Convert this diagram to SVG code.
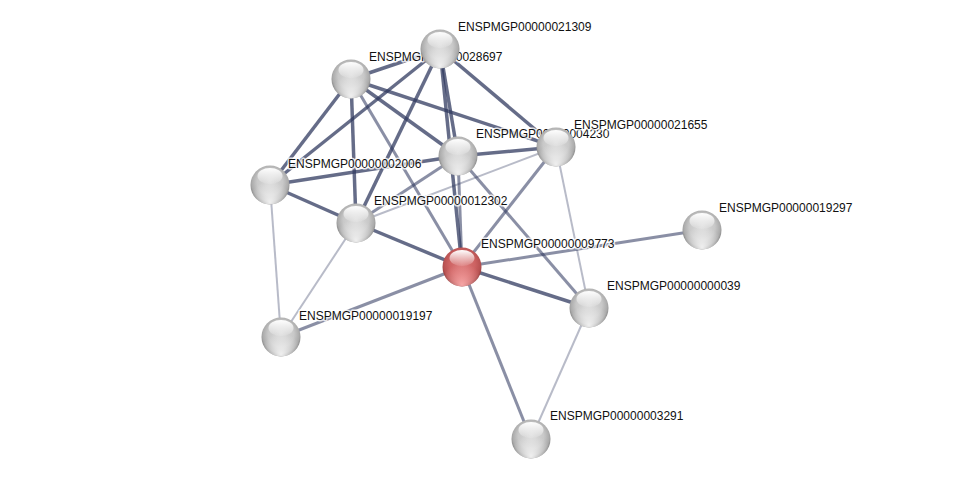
<svg xmlns="http://www.w3.org/2000/svg" width="975" height="484" viewBox="0 0 975 484">
<defs>
<radialGradient id="gBody" cx="50%" cy="45%" r="55%" fx="50%" fy="40%">
<stop offset="0" stop-color="#dcdcdc"/>
<stop offset="0.6" stop-color="#c8c8c8"/>
<stop offset="0.85" stop-color="#ababab"/>
<stop offset="1" stop-color="#7a7a7a"/>
</radialGradient>
<radialGradient id="rBody" cx="50%" cy="45%" r="55%" fx="50%" fy="40%">
<stop offset="0" stop-color="#dc7a7a"/>
<stop offset="0.6" stop-color="#cd6262"/>
<stop offset="0.85" stop-color="#b85252"/>
<stop offset="1" stop-color="#853737"/>
</radialGradient>
<radialGradient id="gBot" cx="50%" cy="95%" r="55%">
<stop offset="0" stop-color="#ffffff" stop-opacity="0.85"/>
<stop offset="1" stop-color="#ffffff" stop-opacity="0"/>
</radialGradient>
<radialGradient id="rBot" cx="50%" cy="95%" r="55%">
<stop offset="0" stop-color="#ffb0b0" stop-opacity="0.9"/>
<stop offset="1" stop-color="#ffb0b0" stop-opacity="0"/>
</radialGradient>
<linearGradient id="hl" x1="0" y1="0" x2="0" y2="1">
<stop offset="0" stop-color="#ffffff" stop-opacity="1"/>
<stop offset="1" stop-color="#ffffff" stop-opacity="0.1"/>
</linearGradient>
</defs>
<style>
.e{stroke:#2f385f;fill:none;stroke-linecap:butt}
.s1{stroke-width:3.5;stroke-opacity:0.74}
.s2{stroke-width:3;stroke-opacity:0.56}
.s3{stroke-width:2;stroke-opacity:0.34}
.gb{fill:url(#gBody)}
.rb{fill:url(#rBody)}
.gbot{fill:url(#gBot)}
.rbot{fill:url(#rBot)}
.hl{fill:url(#hl)}
.lbl{font-family:"Liberation Sans",Arial,sans-serif;font-size:12px;fill:#111;stroke:#ffffff;stroke-width:3;stroke-opacity:0.8;paint-order:stroke;stroke-linejoin:round}
</style>
<rect width="975" height="484" fill="#ffffff"/>
<g id="edges">
<line class="e s1" x1="440" y1="49" x2="351" y2="79"/>
<line class="e s1" x1="440" y1="49" x2="458" y2="156"/>
<line class="e s1" x1="351" y1="79" x2="458" y2="156"/>
<line class="e s1" x1="356" y1="223" x2="462" y2="267"/>
<line class="e s1" x1="462" y1="267" x2="589" y2="308"/>
<line class="e s1" x1="458" y1="156" x2="556" y2="147"/>
<line class="e s1" x1="351" y1="79" x2="270" y2="185"/>
<line class="e s1" x1="440" y1="49" x2="270" y2="185"/>
<line class="e s1" x1="270" y1="185" x2="458" y2="156"/>
<line class="e s1" x1="351" y1="79" x2="356" y2="223"/>
<line class="e s1" x1="440" y1="49" x2="356" y2="223"/>
<line class="e s1" x1="351" y1="79" x2="556" y2="147"/>
<line class="e s1" x1="440" y1="49" x2="556" y2="147"/>
<line class="e s1" x1="270" y1="185" x2="356" y2="223"/>
<line class="e s1" x1="440" y1="49" x2="462" y2="267"/>
<line class="e s2" x1="356" y1="223" x2="458" y2="156"/>
<line class="e s2" x1="458" y1="156" x2="462" y2="267"/>
<line class="e s2" x1="351" y1="79" x2="462" y2="267"/>
<line class="e s2" x1="462" y1="267" x2="702" y2="230"/>
<line class="e s2" x1="462" y1="267" x2="281" y2="337"/>
<line class="e s2" x1="462" y1="267" x2="531" y2="439"/>
<line class="e s2" x1="556" y1="147" x2="462" y2="267"/>
<line class="e s2" x1="458" y1="156" x2="589" y2="308"/>
<line class="e s3" x1="356" y1="223" x2="556" y2="147"/>
<line class="e s3" x1="556" y1="147" x2="589" y2="308"/>
<line class="e s3" x1="270" y1="185" x2="281" y2="337"/>
<line class="e s3" x1="356" y1="223" x2="281" y2="337"/>
<line class="e s3" x1="589" y1="308" x2="531" y2="439"/>
</g>
<g id="n28697">
<text class="lbl" x="369" y="61">ENSPMGP00000028697</text>
<circle class="gb" cx="351" cy="79" r="19.5"/><circle class="gbot" cx="351" cy="79" r="19.5"/><ellipse class="hl" cx="351" cy="70" rx="12.5" ry="8"/>
</g>
<g id="n21309">
<text class="lbl" x="458" y="31">ENSPMGP00000021309</text>
<circle class="gb" cx="440" cy="49" r="19.5"/><circle class="gbot" cx="440" cy="49" r="19.5"/><ellipse class="hl" cx="440" cy="40" rx="12.5" ry="8"/>
</g>
<g id="n02006">
<text class="lbl" x="288" y="168">ENSPMGP00000002006</text>
<circle class="gb" cx="270" cy="185" r="19.5"/><circle class="gbot" cx="270" cy="185" r="19.5"/><ellipse class="hl" cx="270" cy="176" rx="12.5" ry="8"/>
</g>
<g id="n04230">
<text class="lbl" x="476" y="138">ENSPMGP00000004230</text>
<circle class="gb" cx="458" cy="156" r="19.5"/><circle class="gbot" cx="458" cy="156" r="19.5"/><ellipse class="hl" cx="458" cy="147" rx="12.5" ry="8"/>
</g>
<g id="n21655">
<text class="lbl" x="574" y="129">ENSPMGP00000021655</text>
<circle class="gb" cx="556" cy="147" r="19.5"/><circle class="gbot" cx="556" cy="147" r="19.5"/><ellipse class="hl" cx="556" cy="138" rx="12.5" ry="8"/>
</g>
<g id="n12302">
<text class="lbl" x="374" y="205">ENSPMGP00000012302</text>
<circle class="gb" cx="356" cy="223" r="19.5"/><circle class="gbot" cx="356" cy="223" r="19.5"/><ellipse class="hl" cx="356" cy="214" rx="12.5" ry="8"/>
</g>
<g id="n09773">
<text class="lbl" x="481" y="248">ENSPMGP00000009773</text>
<circle class="rb" cx="462" cy="267" r="19.5"/><circle class="rbot" cx="462" cy="267" r="19.5"/><ellipse class="hl" cx="462" cy="258" rx="12.5" ry="8"/>
</g>
<g id="n19297">
<text class="lbl" x="719" y="212">ENSPMGP00000019297</text>
<circle class="gb" cx="702" cy="230" r="19.5"/><circle class="gbot" cx="702" cy="230" r="19.5"/><ellipse class="hl" cx="702" cy="221" rx="12.5" ry="8"/>
</g>
<g id="n00039">
<text class="lbl" x="607" y="290">ENSPMGP00000000039</text>
<circle class="gb" cx="589" cy="308" r="19.5"/><circle class="gbot" cx="589" cy="308" r="19.5"/><ellipse class="hl" cx="589" cy="299" rx="12.5" ry="8"/>
</g>
<g id="n19197">
<text class="lbl" x="299" y="320">ENSPMGP00000019197</text>
<circle class="gb" cx="281" cy="337" r="19.5"/><circle class="gbot" cx="281" cy="337" r="19.5"/><ellipse class="hl" cx="281" cy="328" rx="12.5" ry="8"/>
</g>
<g id="n03291">
<text class="lbl" x="550" y="420">ENSPMGP00000003291</text>
<circle class="gb" cx="531" cy="439" r="19.5"/><circle class="gbot" cx="531" cy="439" r="19.5"/><ellipse class="hl" cx="531" cy="430" rx="12.5" ry="8"/>
</g>
</svg>
